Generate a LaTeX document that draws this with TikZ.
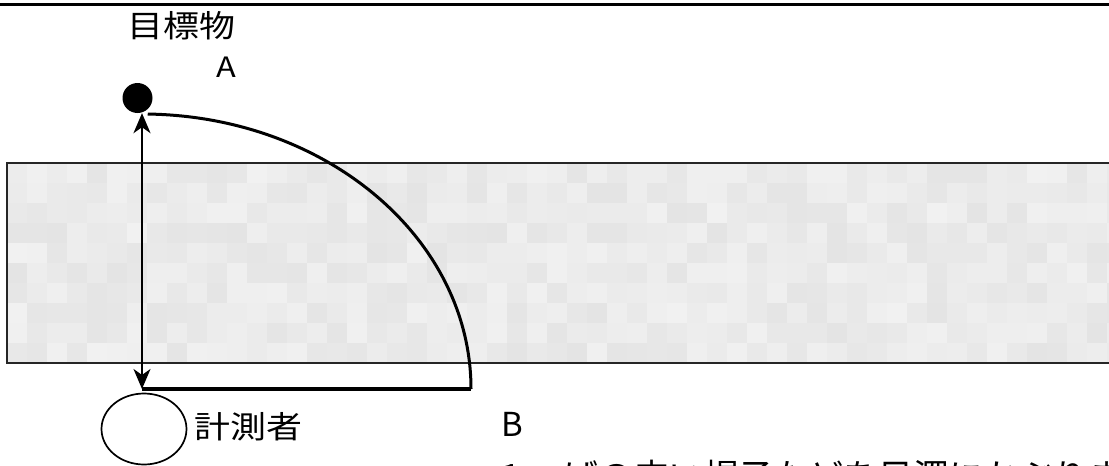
\documentclass[tikz,border=0pt]{standalone}
\usepackage{fontspec}
\setmainfont{Noto Sans CJK JP}
\newfontfamily\widejp[FakeStretch=1.16]{Noto Sans CJK JP}
\usepackage{xcolor}
\usepackage{tikz}
\usetikzlibrary{shapes.geometric, arrows.meta}

\begin{document}
\begin{tikzpicture}[x=1pt, y=-1pt,
        >={Stealth[length=20pt, width=17pt, inset=6pt]},
        label text/.style={anchor=base west, inner sep=0pt},
        big text/.style={font=\widejp\fontsize{31}{36}\selectfont},
        letter text/.style={font=\fontsize{33}{38}\selectfont}]
    \useasboundingbox (0,0) rectangle (1109,466);
    \clip (0,0) rectangle (1109,466);
    % rule along the top
    \draw[line width=3.2pt] (0,4.5) -- (1109,4.5);
    % band in between
    \pgfmathsetseed{12}
    \foreach \col in {0,...,55} {
        \foreach \row in {0,...,9} {
            \pgfmathsetmacro{\tone}{5.5+5*rnd}
            \fill[black!\tone] (7+20*\col,163+20*\row) rectangle ++(20,20);
        }
    }
    \draw[line width=2pt, black!85] (1120,163) -- (7,163) -- (7,363) -- (1120,363);
    % target and observer
    \node[circle, fill=black, inner sep=0pt, minimum size=30pt] (target) at (137.5,98) {};
    \node[ellipse, draw, line width=1.7pt, inner sep=0pt, minimum width=85pt, minimum height=71pt] (observer) at (144,429) {};
    \coordinate (corner) at (142,389);
    \coordinate (swing) at (471,389);
    \draw[<->, line width=2.3pt] (corner |- target.south) -- (corner);
    \draw[line width=3.5pt] (corner) -- (swing);
    \draw[line width=3pt] (swing) arc[start angle=0, end angle=-89, x radius=329, y radius=275];
    % labels
    \node[label text, big text] (targetname) at (127,37) {目標物};
    \node[label text, font=\widejp\fontsize{28}{32}\selectfont] (pointa) at (216,77) {A};
    \node[label text, big text] (observername) at (194,438) {計測者};
    \node[label text, letter text] (pointb) at (501,436) {B};
    \node[label text, font=\fontsize{35}{40}\selectfont] (tipline) at (501,489) {1 つばの広い帽子などを目深にかぶります};
\end{tikzpicture}
\end{document}
